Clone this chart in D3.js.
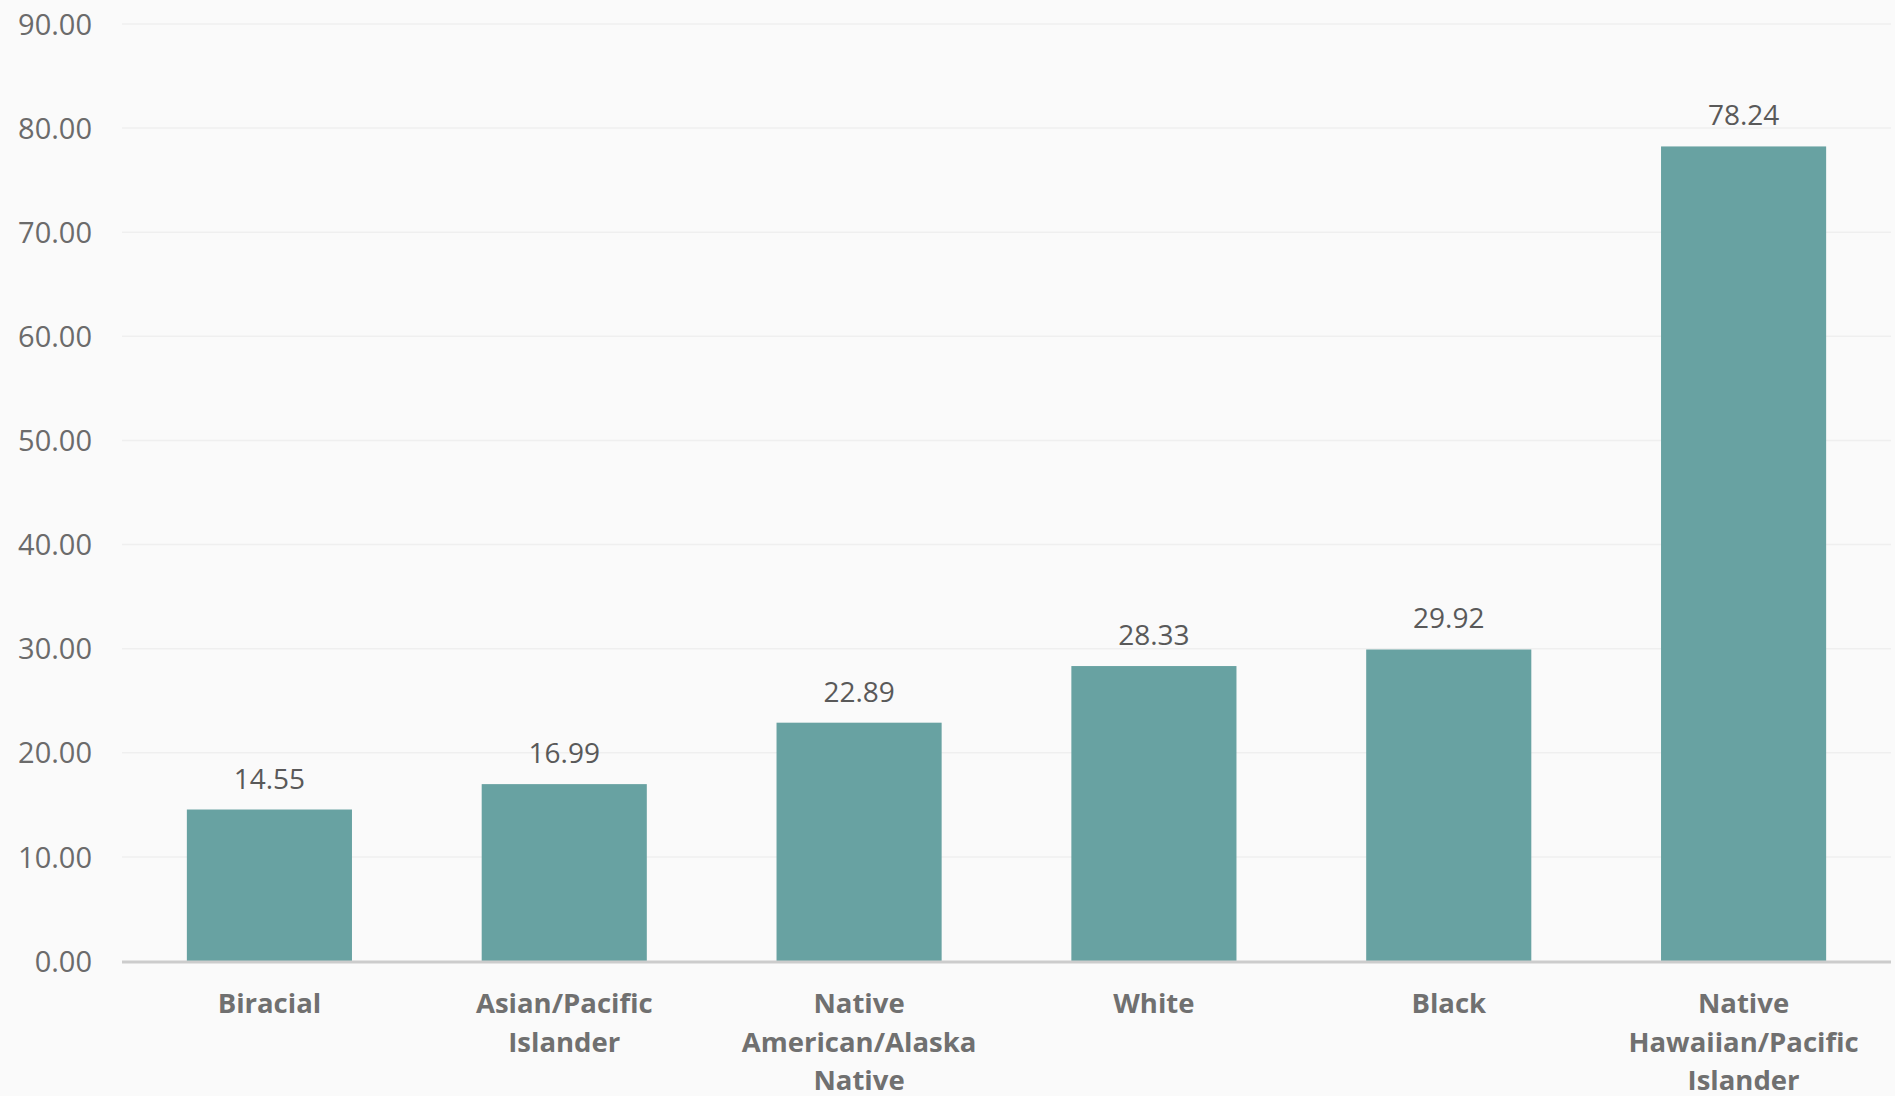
<!DOCTYPE html>
<html><head><meta charset="utf-8">
<script src="https://cdn.jsdelivr.net/npm/d3@7"></script>
<style>html,body{margin:0;padding:0;background:#fafafa;}svg{display:block;}</style>
</head><body>
<script>
const categories = ["Biracial", "Asian/Pacific Islander", "Native American/Alaska Native", "White", "Black", "Native Hawaiian/Pacific Islander"];
const labelLines = [["Biracial"], ["Asian/Pacific", "Islander"], ["Native", "American/Alaska", "Native"], ["White"], ["Black"], ["Native", "Hawaiian/Pacific", "Islander"]];
const values = [14.55, 16.99, 22.89, 28.33, 29.92, 78.24];
const yTicks = [0, 10, 20, 30, 40, 50, 60, 70, 80, 90];

const W = 1895, H = 1096;
const m = {left: 122, right: 4, top: 24, bottom: 135};
const svg = d3.select("body").append("svg").attr("width", W).attr("height", H);
svg.append("rect").attr("width", W).attr("height", H).attr("fill", "#fafafa");

const x = d3.scaleBand().domain(categories).range([m.left, W - m.right]).paddingInner(0.44).paddingOuter(0.22);
const y = d3.scaleLinear().domain([0, 90]).range([H - m.bottom, m.top]);

// gridlines
svg.append("g").selectAll("line").data(yTicks.filter(d => d > 0)).join("line")
  .attr("x1", m.left).attr("x2", W - m.right)
  .attr("y1", d => y(d)).attr("y2", d => y(d))
  .attr("stroke", "#efefef").attr("stroke-width", 1.5);

// y axis labels
const yAxis = d3.axisLeft(y).tickValues(yTicks).tickFormat(d3.format(".2f")).tickSize(0).tickPadding(0);
const gy = svg.append("g").attr("transform", `translate(92,0)`).call(yAxis);
gy.select(".domain").remove();
gy.selectAll("text").attr("font-family", "'Open Sans', sans-serif").attr("font-size", 29).attr("fill", "#6b6b6b").attr("dy", "0.35em");

// bars
svg.append("g").selectAll("rect").data(values).join("rect")
  .attr("x", (d, i) => x(categories[i]))
  .attr("width", x.bandwidth())
  .attr("y", d => y(d))
  .attr("height", d => y(0) - y(d))
  .attr("fill", "#68a2a2");

// value labels
svg.append("g").selectAll("text").data(values).join("text")
  .attr("x", (d, i) => x(categories[i]) + x.bandwidth() / 2)
  .attr("y", d => y(d) - 21)
  .attr("text-anchor", "middle")
  .attr("font-family", "'Open Sans', sans-serif").attr("font-size", 28).attr("fill", "#595959")
  .text(d => d.toFixed(2));

// x axis line
svg.append("line").attr("x1", m.left).attr("x2", W - m.right)
  .attr("y1", y(0) + 1).attr("y2", y(0) + 1)
  .attr("stroke", "#cccccc").attr("stroke-width", 3);

// category labels
const xl = svg.append("g").selectAll("text").data(categories).join("text")
  .attr("x", d => x(d) + x.bandwidth() / 2)
  .attr("y", y(0) + 52)
  .attr("text-anchor", "middle")
  .attr("font-family", "'Open Sans', sans-serif").attr("font-weight", "bold").attr("font-size", 27.5).attr("fill", "#707070");
xl.each(function(d, i) {
  const t = d3.select(this);
  labelLines[i].forEach((ln, j) => {
    t.append("tspan").attr("x", x(d) + x.bandwidth() / 2).attr("dy", j === 0 ? 0 : 38.5).text(ln);
  });
});
</script>
</body></html>
